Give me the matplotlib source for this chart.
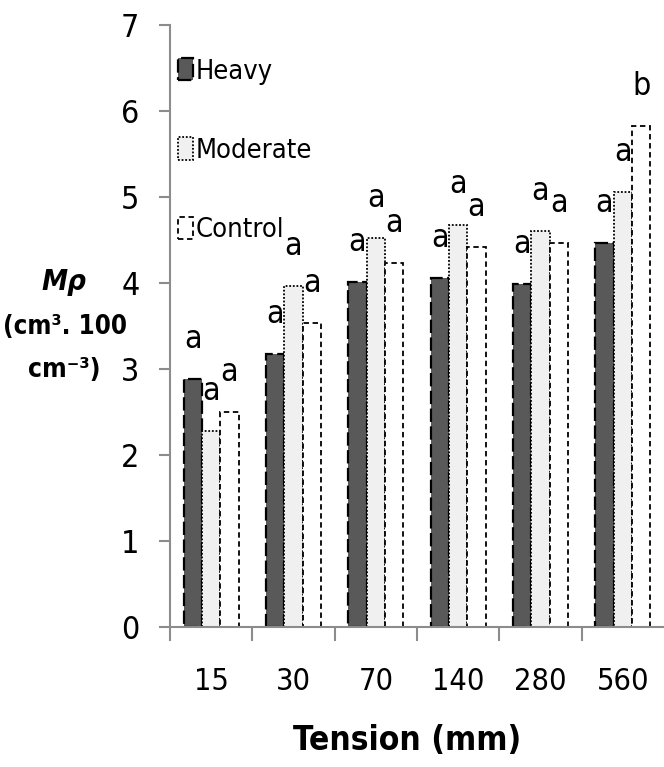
import matplotlib
matplotlib.use("Agg")
import matplotlib.pyplot as plt
import numpy as np

# Dados
tensoes = ["15", "30", "70", "140", "280", "560"]
pesado = [2.88, 3.17, 4.01, 4.06, 3.99, 4.46]
moderado = [2.28, 3.96, 4.52, 4.68, 4.60, 5.06]
controle = [2.50, 3.53, 4.23, 4.42, 4.46, 5.83]
letras_pesado = ["a", "a", "a", "a", "a", "a"]
letras_moderado = ["a", "a", "a", "a", "a", "a"]
letras_controle = ["a", "a", "a", "a", "a", "b"]

plt.rcParams["font.family"] = ["DejaVu Sans"]
plt.rcParams["font.stretch"] = "condensed"

fig = plt.figure(figsize=(6.64, 7.67), dpi=100)
ax = fig.add_axes([170 / 664, 140 / 767, 494 / 664, 602 / 767])

x = np.arange(len(tensoes))
w = 0.222

series = [
    (pesado, letras_pesado, -w, "#595959", (0, (6, 2)), 1.6, "Heavy"),
    (moderado, letras_moderado, 0.0, "#f0f0f0", (0, (1, 1)), 1.3, "Moderate"),
    (controle, letras_controle, w, "white", (0, (3, 2)), 1.3, "Control"),
]
for vals, letras, dx, cor, estilo, lw, rotulo in series:
    ax.bar(x + dx, vals, width=w, color=cor, edgecolor="black",
           linestyle=estilo, linewidth=lw, label=rotulo, zorder=2)
    for xi, v, l in zip(x + dx, vals, letras):
        ax.text(xi, v + 0.46, l, ha="center", va="center", fontsize=23)

ax.set_xlim(-0.5, len(tensoes) - 0.5)
ax.set_ylim(0, 7)
ax.set_yticks(range(0, 8))
ax.tick_params(axis="y", labelsize=23, length=8, width=1.5,
               color="#8c8c8c", pad=14)

# marcas nos limites das categorias, rótulos no centro
ax.set_xticks(np.arange(-0.5, len(tensoes) - 0.5, 1.0))
ax.set_xticklabels([])
ax.tick_params(axis="x", which="major", length=10, width=1.5,
               color="#8c8c8c", direction="out")
ax.set_xticks(x, minor=True)
ax.set_xticklabels(tensoes, minor=True)
ax.tick_params(axis="x", which="minor", length=5, width=1.0,
               color="#a6a6a6", direction="in", labelsize=22, pad=29)

for s in ["top", "right"]:
    ax.spines[s].set_visible(False)
for s in ["left", "bottom"]:
    ax.spines[s].set_color("#8c8c8c")
    ax.spines[s].set_linewidth(1.5)

ax.legend(loc="upper left", bbox_to_anchor=(178 / 664, 1 - 58 / 767),
          bbox_transform=fig.transFigure, frameon=False, fontsize=19.5,
          handlelength=0.55, handleheight=0.9, handletextpad=0.1,
          labelspacing=1.95, borderpad=0, borderaxespad=0)

fig.text(64 / 664, 1 - 282 / 767, "Mρ", ha="center", va="center",
         fontsize=21, fontweight="bold", fontstyle="italic")
fig.text(65 / 664, 1 - 327 / 767, "(cm³. 100", ha="center", va="center",
         fontsize=18.5, fontweight="bold")
fig.text(64 / 664, 1 - 370 / 767, "cm⁻³)", ha="center", va="center",
         fontsize=19, fontweight="bold")

fig.text(407 / 664, 1 - 740 / 767, "Tension (mm)", ha="center", va="center",
         fontsize=24, fontweight="bold")

fig.savefig("out.png", dpi=100)
